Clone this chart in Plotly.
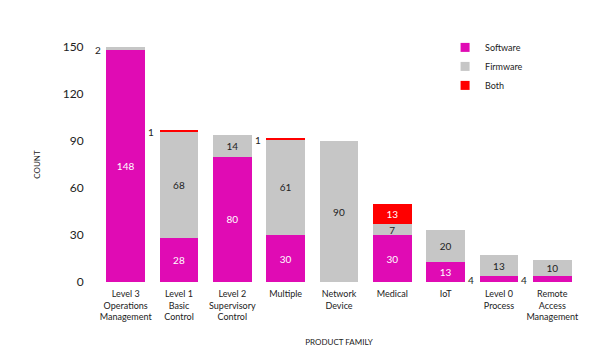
import plotly.graph_objects as go

categories = ["Level 3<br>Operations<br>Management", "Level 1<br>Basic<br>Control",
              "Level 2<br>Supervisory<br>Control", "Multiple", "Network<br>Device",
              "Medical", "IoT", "Level 0<br>Process", "Remote<br>Access<br>Management"]
software = [148, 28, 80, 30, 0, 30, 13, 4, 4]
firmware = [2, 68, 14, 61, 90, 7, 20, 13, 10]
both = [0, 1, 0, 1, 0, 13, 0, 0, 0]
y_ticks = [0, 30, 60, 90, 120, 150]

series = [("Software", software, "#E00BB4", "white"),
          ("Firmware", firmware, "#C6C6C6", "#222222"),
          ("Both", both, "#FF0000", "white")]

FONT = "Lato, 'Noto Sans', sans-serif"
SMALL = 5
bargap = 0.27

fig = go.Figure()
for name, vals, color, tcolor in series:
    txt = [str(v) if v >= SMALL else "" for v in vals]
    fig.add_trace(go.Bar(name=name, x=categories, y=vals, marker_color=color,
                         marker_line_width=0, text=txt, textposition="inside",
                         insidetextanchor="middle", textangle=0,
                         textfont=dict(color=tcolor, size=10, family=FONT),
                         hoverinfo="skip", showlegend=False))
# legend entries with smaller square swatches
for name, vals, color, tcolor in series:
    fig.add_trace(go.Scatter(name=name, x=[None], y=[None], mode="markers",
                             marker=dict(symbol="square", size=9, color=color),
                             showlegend=True, hoverinfo="skip"))

# small values labelled to the left of the bar
base = [0] * len(categories)
for name, vals, color, tcolor in series:
    for i, v in enumerate(vals):
        if 0 < v < SMALL:
            fig.add_annotation(x=categories[i], y=base[i] + v / 2, text=str(v),
                               showarrow=False, xanchor="right", yanchor="middle",
                               xshift=-23, yshift=-1,
                               font=dict(size=10, color="#222222", family=FONT))
        base[i] += v

fig.update_layout(
    barmode="stack", bargap=bargap, width=604, height=353,
    margin=dict(l=99, r=25, t=47, b=71),
    plot_bgcolor="white", paper_bgcolor="white",
    font=dict(family=FONT, color="#222222"),
    showlegend=True,
    uniformtext=dict(minsize=10, mode="show"),
    legend=dict(x=0.721, y=1.06, xanchor="left", yanchor="top",
                traceorder="normal", itemwidth=30,
                font=dict(size=9, family=FONT), tracegroupgap=0,
                bgcolor="rgba(0,0,0,0)", itemclick=False),
    xaxis=dict(range=[-0.5, len(categories) - 0.5], showgrid=False, showline=False,
               zeroline=False, tickfont=dict(size=9, family=FONT), ticks="outside",
               ticklen=3, tickcolor="rgba(0,0,0,0)", automargin=False,
               title=dict(text="PRODUCT FAMILY", font=dict(size=8, family=FONT),
                          standoff=18)),
    yaxis=dict(range=[0, 150], showgrid=False, showline=False, zeroline=False,
               tickvals=y_ticks, tickfont=dict(size=12, family=FONT),
               ticks="outside", ticklen=12, tickcolor="rgba(0,0,0,0)",
               automargin=False,
               title=dict(text="COUNT", font=dict(size=8, family=FONT), standoff=20)),
)

fig.write_html("out.html")
